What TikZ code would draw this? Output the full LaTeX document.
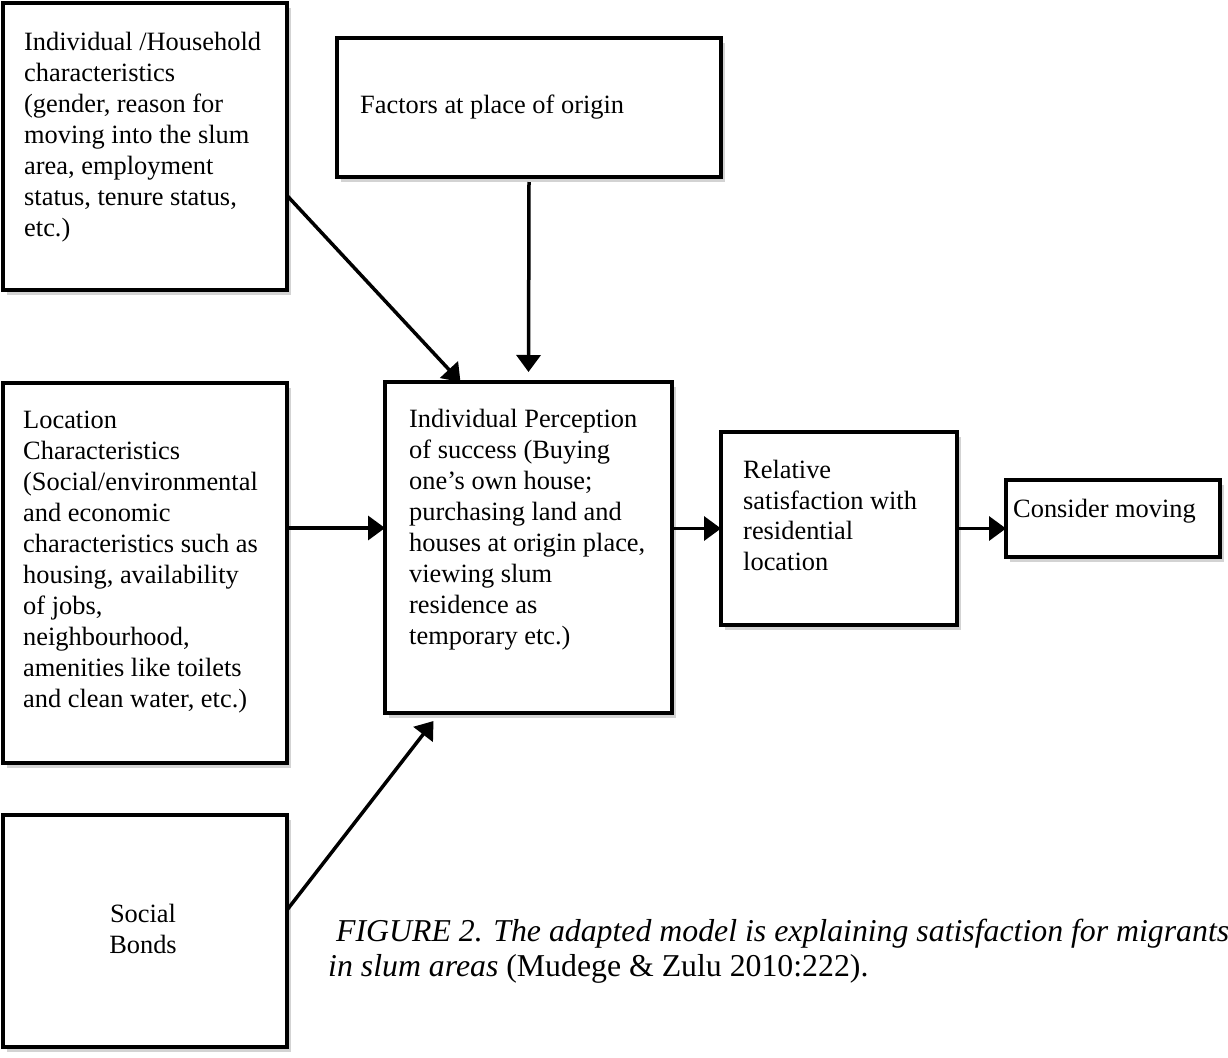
\documentclass[tikz,border=0pt]{standalone}
\usepackage{fontspec}
\setmainfont{Liberation Serif}
\usetikzlibrary{positioning,shadows,arrows.meta}
\newcommand{\boxfont}{\fontsize{26.4}{31}\selectfont}
\newcommand{\capfont}{\fontsize{31.8}{35}\selectfont}

\begin{document}
\begin{tikzpicture}[x=1pt,y=-1pt,
    blk/.style={draw, line width=4pt, fill=white, anchor=north west,
        inner sep=0pt, outer sep=0pt,
        drop shadow={shadow xshift=4pt, shadow yshift=-5pt, opacity=.35}},
    txt/.style={font=\boxfont, align=left, inner sep=0pt, anchor=north west},
    arr/.style={line width=3.5pt, -{Triangle[length=17pt,width=24pt]}}]
    \useasboundingbox (0,0) rectangle (1228,1057);

    % boxes
    \node[blk, minimum width=284pt, minimum height=287pt] (ind) at (3,3) {};
    \node[blk, minimum width=384pt, minimum height=139pt] (orig) at (337,38) {};
    \node[blk, minimum width=284pt, minimum height=380pt] (loc) at (3,383) {};
    \node[blk, minimum width=287pt, minimum height=331pt] (perc) at (385,382) {};
    \node[blk, minimum width=236pt, minimum height=193pt] (rel) at (721,432) {};
    \node[blk, minimum width=214pt, minimum height=77pt] (cons) at (1006,480) {};
    \node[blk, minimum width=284pt, minimum height=232pt] (soc) at (3,815) {};

    % texts
    \node[txt] (indtxt) at ([xshift=21pt, yshift=-29pt]ind.north west)
        {Individual /Household\\characteristics\\(gender, reason for\\moving into the slum\\area, employment\\status, tenure status,\\etc.)};
    \node[txt, anchor=base west] (origtxt) at ([xshift=23pt, yshift=-75pt]orig.north west)
        {Factors at place of origin};
    \node[txt] (loctxt) at ([xshift=20pt, yshift=-28pt]loc.north west)
        {Location\\Characteristics\\(Social/environmental\\and economic\\characteristics such as\\housing, availability\\of jobs,\\neighbourhood,\\amenities like toilets\\and clean water, etc.)};
    \node[txt] (perctxt) at ([xshift=24pt, yshift=-27pt]perc.north west)
        {Individual Perception\\of success (Buying\\one’s own house;\\purchasing land and\\houses at origin place,\\viewing slum\\residence as\\temporary etc.)};
    \node[txt, font=\fontsize{26.4}{30.5}\selectfont] (reltxt) at ([xshift=22pt, yshift=-28pt]rel.north west)
        {Relative\\satisfaction with\\residential\\location};
    \node[txt, anchor=base west] (constxt) at ([xshift=7pt, yshift=-37pt]cons.north west)
        {Consider moving};
    \node[txt, align=center, anchor=base] (soctxt) at ([xshift=-2pt, yshift=-22pt]soc.center)
        {Social\\Bonds};

    % caption
    \node[txt, font=\capfont] (cap) at (328,919)
        {\hspace{8pt}\textit{FIGURE 2. The adapted model is explaining satisfaction for migrants}\\\textit{in slum areas} (Mudege \& Zulu 2010:222).};

    % arrows
    \draw[arr] ([yshift=-49pt]ind.east) -- ([xshift=-68pt]perc.north);
    \draw[arr] ([yshift=-5pt]orig.south) -- ([yshift=10pt]perc.north);
    \draw[arr] ([yshift=45pt]loc.east) -- ([yshift=45pt]loc.east -| perc.west);
    \draw[arr] ([xshift=2pt]perc.east |- rel.west) -- (rel.west);
    \draw[arr] (rel.east) -- (rel.east -| cons.west);
    \draw[arr] ([yshift=21pt]soc.east) -- ([xshift=-95pt, yshift=-8pt]perc.south);
\end{tikzpicture}
\end{document}
